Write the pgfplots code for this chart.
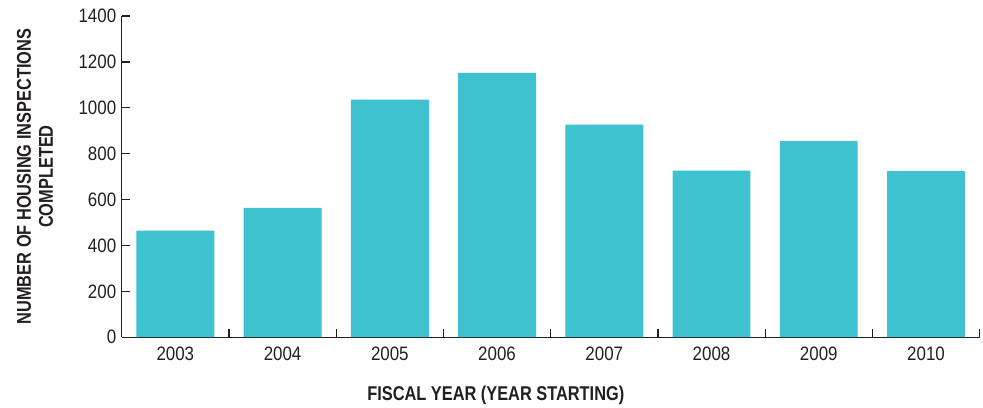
\documentclass[border=0pt]{standalone}
\usepackage{fontspec}
\setmainfont{Liberation Sans}[FakeStretch=0.82]
\newfontfamily\tickfont{Liberation Sans}[FakeStretch=0.87]
\usepackage{pgfplots}
\pgfplotsset{compat=1.18}
\definecolor{barc}{RGB}{62,194,207}
\definecolor{axc}{RGB}{35,31,32}
\begin{document}
\begin{tikzpicture}
\begin{axis}[
  name=ax,
  scale only axis,
  width=860pt, height=322pt,
  xmin=-0.5, xmax=7.5,
  ymin=0, ymax=1400,
  axis lines=left,
  axis line style={axc, line width=1.3pt, -},
  ytick={0,200,...,1400},
  xtick={0.5,1.5,...,7.5},
  xticklabels={},
  extra x ticks={0,1,2,3,4,5,6,7},
  extra x tick labels={2003,2004,2005,2006,2007,2008,2009,2010},
  extra x tick style={tick style={draw=none}},
  tick align=inside,
  major tick length=8.7pt,
  tick style={axc, line width=1.3pt},
  /pgf/number format/assume math mode=true,
  /pgf/number format/1000 sep={},
  tick label style={font=\tickfont\fontsize{19.5}{21}\selectfont, text=axc},
  yticklabel style={xshift=-2pt},
  xticklabel style={yshift=-6pt},
  xlabel={FISCAL YEAR (YEAR STARTING)},
  ylabel={NUMBER OF HOUSING INSPECTIONS\\COMPLETED},
  xlabel style={font=\bfseries\fontsize{20}{22}\selectfont, text=axc, at={(axis description cs:0.436,0)}, anchor=center, yshift=-58pt},
  ylabel style={font=\bfseries\fontsize{20}{22}\selectfont, text=axc, align=center, at={(axis description cs:0,0.5)}, anchor=center, yshift=87pt},
  clip=false,
]
\addplot[ybar, bar width=0.726, fill=barc, draw=none] coordinates {
  (0,465) (1,564) (2,1035) (3,1152) (4,926) (5,726) (6,854) (7,724)
};
\end{axis}
\path ([shift={(-122pt,-68pt)}]ax.south west) rectangle ([shift={(1pt,16pt)}]ax.north east);
\end{tikzpicture}
\end{document}
